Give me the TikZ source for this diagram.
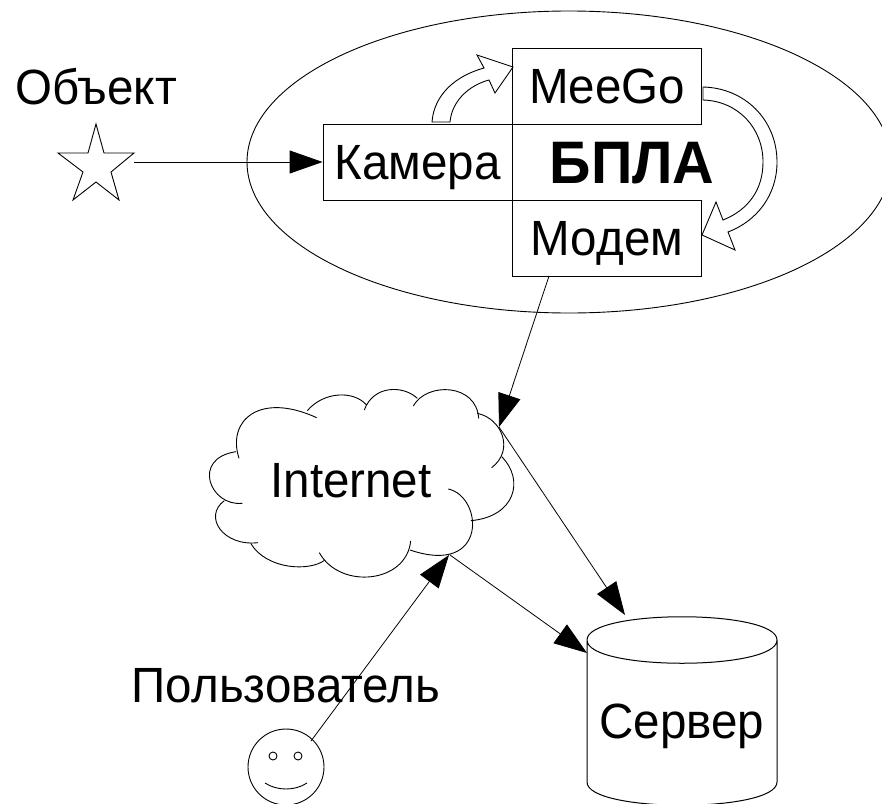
\documentclass[tikz,border=0pt]{standalone}
\usepackage{fontspec}
\setmainfont{Liberation Sans}[FakeStretch=0.96]
\usetikzlibrary{arrows.meta}
\tikzset{
  bigfont/.style={font=\fontsize{49.5}{52}\selectfont},
  boxnode/.style={draw,line width=.8pt,bigfont,minimum width=189pt,minimum height=76pt,inner sep=0pt,text height=34pt,text depth=0pt},
  textnode/.style={bigfont,inner sep=0pt,anchor=base},
  bigarrow/.style={->,>={Triangle[length=33pt,width=23pt]},line width=.8pt},
  line/.style={line width=.9pt}
}

\begin{document}
\begin{tikzpicture}[x=1pt,y=-1pt]
  \useasboundingbox(0, 0) rectangle (882, 803);
  \clip(0, 0) rectangle (882, 803);
  % drone
  \draw[line](569, 162) ellipse [x radius=322, y radius=151];
  \draw(607, 86.5) node[boxnode](meego) {MeeGo};
  \draw(417.5, 162) node[boxnode](camera) {Камера};
  \draw(607, 238) node[boxnode](modem) {Модем};
  \draw(632, 183) node[textnode,font=\fontsize{60}{64}\selectfont\bfseries](uav) {БПЛА};
  \draw[line](432, 122) .. controls (434, 95) and (455, 76) .. (484, 68) -- (477, 55) -- (513, 67)
    -- (495, 93) -- (489, 80) .. controls (470, 85) and (452, 100) .. (450, 122) -- cycle;
  \draw[line](703, 87) .. controls (745, 88) and (777, 120) .. (777, 162)
    .. controls (777, 195) and (757, 221) .. (728, 232) -- (735, 250) -- (702, 235) -- (716, 202) -- (723, 220)
    .. controls (748, 210) and (763, 190) .. (763, 162)
    .. controls (763, 128) and (738, 101) .. (703, 100) -- cycle;
  % object
  \draw(96, 104) node[textnode](objlabel) {Объект};
  \draw[line](96, 124) -- (104, 153) -- (134, 153) -- (111, 172) -- (119, 200) -- (96, 182) -- (73, 200) -- (83, 172) -- (58, 153) -- (88, 153) -- cycle;
  \coordinate(star) at (134, 162);
  \draw[bigarrow](star) -- (camera.west);
  % cloud
  \begin{scope}[shift={(190, 380)},x=.3333pt,y=-.3333pt]
    \draw[line](147, 235) .. controls (110, 120) and (210, 35) .. (380, 113);
    \draw[line](352, 92) .. controls (400, 35) and (490, 30) .. (530, 75);
    \draw[line](523, 90) .. controls (550, 15) and (640, 15) .. (682, 55);
    \draw[line](670, 78) .. controls (710, 5) and (860, 10) .. (866, 115);
    \draw[line](862, 100) .. controls (935, 115) and (975, 210) .. (905, 263);
    \draw[line](935, 230) .. controls (1005, 300) and (975, 410) .. (843, 422);
    \draw[line](775, 327) .. controls (880, 350) and (895, 590) .. (660, 510);
    \draw[line](662, 483) .. controls (650, 610) and (450, 630) .. (388, 518);
    \draw[line](405, 540) .. controls (360, 575) and (230, 570) .. (182, 490);
    \draw[line](204, 488) .. controls (100, 500) and (38, 410) .. (103, 362);
    \draw[line](157, 370) .. controls (60, 380) and (3, 235) .. (138, 215);
  \end{scope}
  \draw(351, 497) node[textnode](cloud) {Internet};
  \coordinate(modemout) at (549, 276);
  \coordinate(cloudin) at (499, 427);
  \coordinate(cloudout) at (450, 555);
  \coordinate(cloudtop) at (499, 427);
  \coordinate(usrout) at (311, 741);
  \coordinate(cloudusr) at (449, 555);
  % server
  \draw[line,line width=1pt](587, 640) .. controls (587, 609) and (777, 609) .. (777, 640)
    .. controls (777, 671) and (587, 671) .. (587, 640) -- (587, 782)
    .. controls (587, 813) and (777, 813) .. (777, 782) -- (777, 640);
  \draw(682, 738) node[textnode](server) {Сервер};
  \coordinate(srvtop) at (625, 615);
  \coordinate(srvleft) at (587, 653);
  % user
  \draw(286, 702) node[textnode](userlabel) {Пользователь};
  \draw[line](286, 767) ellipse [x radius=38, y radius=38];
  \draw[line](273, 756) circle (4);
  \draw[line](298, 756) circle (4);
  \draw[line](265, 783) .. controls (277, 791) and (295, 791) .. (307, 783);
  % links
  \draw[bigarrow](modemout) -- (cloudin);
  \draw[bigarrow](cloudtop) -- (srvtop);
  \draw[bigarrow](cloudout) -- (srvleft);
  \draw[bigarrow](usrout) -- (cloudusr);
\end{tikzpicture}
\end{document}
